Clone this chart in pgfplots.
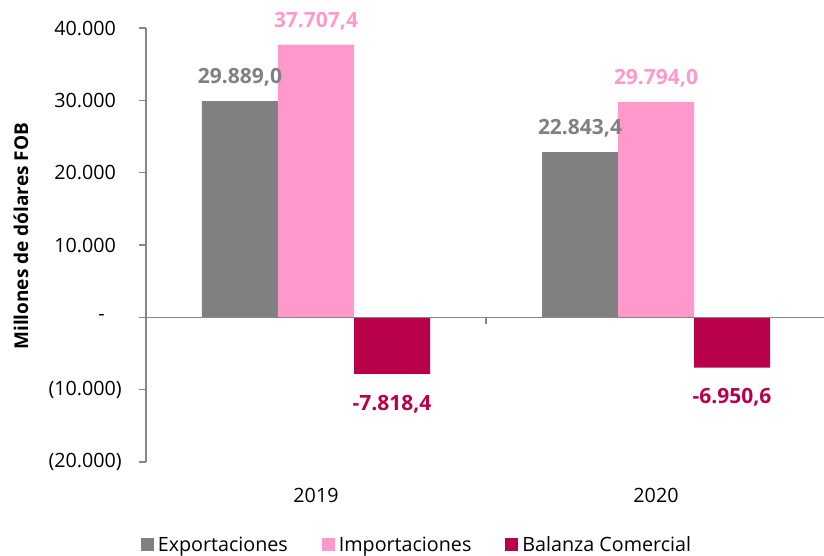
\documentclass[border=0pt]{standalone}
\usepackage{fontspec}
\setmainfont{Open Sans}
\usepackage{pgfplots}
\pgfplotsset{compat=1.18}
\definecolor{cgray}{RGB}{128,128,128}
\definecolor{cpink}{RGB}{255,153,204}
\definecolor{ccrim}{RGB}{185,0,74}
\definecolor{caxis}{RGB}{134,134,134}
\begin{document}
\begin{tikzpicture}
\useasboundingbox (-146bp,-94bp) rectangle (678bp,462bp);
\begin{axis}[
  at={(0,0)}, anchor=south west, scale only axis,
  width=680bp, height=434bp,
  xmin=-0.5, xmax=1.5, ymin=-20000, ymax=40000,
  ybar=0pt, bar width=76bp,
  scaled y ticks=false,
  /pgf/number format/assume math mode=true,
  axis y line*=left, axis x line*=bottom,
  x axis line style={draw=none},
  y axis line style={draw=caxis, line width=1.2bp},
  xtick={0,1}, xticklabels={2019,2020},
  xtick style={draw=none},
  ytick={-20000,-10000,0,10000,20000,30000,40000},
  yticklabels={(20.000),(10.000),{-\hphantom{0)}},{10.000\hphantom{)}},{20.000\hphantom{)}},{30.000\hphantom{)}},{40.000\hphantom{)}}},
  ytick style={draw=caxis, line width=1.2bp},
  tick align=outside, major tick length=7bp,
  ticklabel style={font=\fontsize{19.7bp}{23bp}\selectfont},
  yticklabel style={anchor=east, inner xsep=0pt, xshift=-17bp},
  xticklabel style={inner ysep=0pt, yshift=-19bp},
  ylabel={Millones de dólares FOB},
  ylabel style={at={(axis description cs:-0.1838,0.52)}, anchor=center, font=\fontsize{19bp}{22bp}\bfseries\selectfont},
  nodes near coords={\pgfmathprintnumber[fixed,fixed zerofill,precision=1,use comma,1000 sep={.}]{\pgfplotspointmeta}},
  nodes near coords align={vertical},
  every node near coord/.append style={font=\fontsize{21bp}{25bp}\bfseries\selectfont, inner xsep=0pt, inner ysep=17bp, text depth=0pt, text height=15bp},
  legend style={at={(axis description cs:0.4,-0.1912)}, anchor=center, draw=none, fill=none,
    legend columns=-1, font=\fontsize{19.7bp}{23bp}\selectfont,
    /tikz/every even column/.append style={column sep=30bp},
    nodes={inner xsep=4bp}},
  legend image code/.code={\fill[#1] (0bp,-6.5bp) rectangle (13bp,6.5bp);},
]
\addplot[fill=cgray, draw=none, every node near coord/.append style={color=cgray}] coordinates {(0,29889.0) (1,22843.4)};
\addplot[fill=cpink, draw=none, every node near coord/.append style={color=cpink}] coordinates {(0,37707.4) (1,29794.0)};
\addplot[fill=ccrim, draw=none, every node near coord/.append style={color=ccrim, yshift=-4bp}] coordinates {(0,-7818.4) (1,-6950.6)};
\legend{Exportaciones, Importaciones, Balanza Comercial}
\draw[caxis, line width=1.2bp] (axis cs:-0.5,0) -- (axis cs:1.5,0);
\draw[caxis, line width=1.2bp] (axis cs:0.5,0) -- ([yshift=-7bp]axis cs:0.5,0);
\end{axis}
\end{tikzpicture}
\end{document}
